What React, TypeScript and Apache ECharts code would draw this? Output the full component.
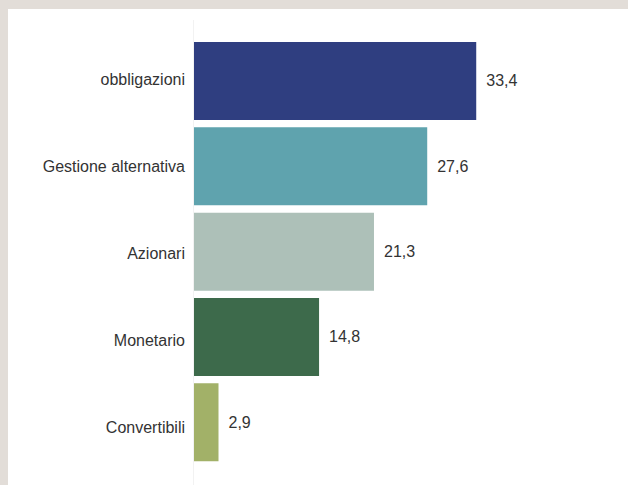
import React, { useEffect, useRef } from "react";
import * as echarts from "echarts";

const categories = ["obbligazioni", "Gestione alternativa", "Azionari", "Monetario", "Convertibili"];
const values = [33.4, 27.6, 21.3, 14.8, 2.9];
const colors = ["#2f3e80", "#5fa3ae", "#adc0b8", "#3d6a4b", "#a2b168"];

export default function App() {
  const ref = useRef<HTMLDivElement>(null);
  useEffect(() => {
    document.body.style.margin = "0";
    const chart = echarts.init(ref.current!, null, { renderer: "svg" });
    const font = "Liberation Sans, Arial, sans-serif";
    chart.setOption({
      animation: false,
      backgroundColor: "#ffffff",
      grid: [
        { left: 186, right: 96, top: 29.3, bottom: 20, containLabel: false },
        { left: 186, right: 96, top: 26.5, bottom: 14, containLabel: false },
      ],
      xAxis: [
        { type: "value", min: 0, max: 40, show: false, gridIndex: 0 },
        { type: "value", min: 0, max: 40, show: false, gridIndex: 1 },
      ],
      yAxis: [
        {
          type: "category",
          gridIndex: 0,
          data: categories,
          inverse: true,
          axisLine: { show: false },
          axisTick: { show: false },
          splitLine: { show: false },
          axisLabel: { show: false },
        },
        {
          type: "category",
          gridIndex: 1,
          data: categories,
          inverse: true,
          axisLine: { show: false },
          axisTick: { show: false },
          splitLine: { show: false },
          axisLabel: { margin: 9, fontSize: 16, color: "#333333", fontFamily: font },
        },
      ],
      graphic: [
        {
          type: "line",
          shape: { x1: 185.5, y1: 11, x2: 185.5, y2: 476 },
          style: { stroke: "#f2f2f2", lineWidth: 1 },
          z: 0,
        },
      ],
      series: [
        {
          type: "bar",
          xAxisIndex: 0,
          yAxisIndex: 0,
          barCategoryGap: "8.6%",
          data: values.map((v, i) => ({ value: v, itemStyle: { color: colors[i] } })),
          label: {
            show: true,
            position: "right",
            distance: 10,
            fontSize: 16,
            color: "#333333",
            fontFamily: font,
            formatter: (p: any) => String(p.value).replace(".", ","),
          },
          z: 2,
        },
      ],
    });
    return () => chart.dispose();
  }, []);
  return (
    <div style={{ width: 628, height: 485, background: "#e2ddd8", position: "relative", overflow: "hidden" }}>
      <div ref={ref} style={{ position: "absolute", left: 8, top: 9, width: 620, height: 476 }} />
    </div>
  );
}
